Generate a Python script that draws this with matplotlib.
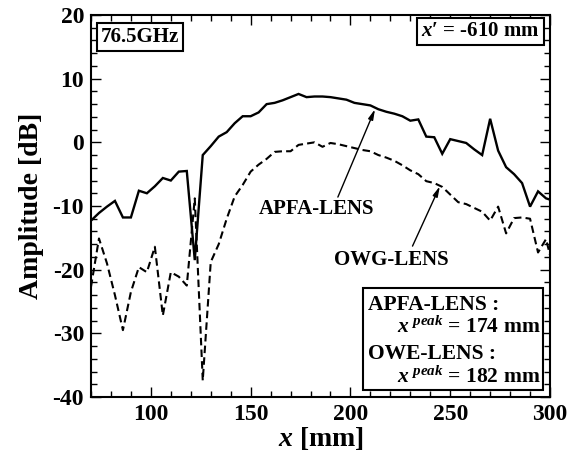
import matplotlib
matplotlib.use("Agg")
import matplotlib.pyplot as plt
from matplotlib.ticker import MultipleLocator
from matplotlib.patches import Rectangle

plt.rcParams['font.family'] = ['Liberation Serif', 'DejaVu Serif']
plt.rcParams['font.weight'] = 'bold'
plt.rcParams['mathtext.fontset'] = 'custom'
plt.rcParams['mathtext.it'] = 'Liberation Serif:italic:bold'
plt.rcParams['mathtext.rm'] = 'Liberation Serif:bold'
plt.rcParams['mathtext.bf'] = 'Liberation Serif:bold'

x_mm = [70, 74, 78, 82, 86, 90, 94, 98, 102, 106, 110, 114, 118, 122, 126, 130,
        134, 138, 142, 146, 150, 154, 158, 162, 166, 170, 174, 178, 182, 186, 190,
        194, 198, 202, 206, 210, 214, 218, 222, 226, 230, 234, 238, 242, 246, 250,
        254, 258, 262, 266, 270, 274, 278, 282, 286, 290, 294, 298, 300]

apfa_lens = [-12.3, -11.1, -10.1, -9.2, -11.8, -11.8, -7.6, -8.0, -6.9, -5.6, -6.0,
             -4.6, -4.5, -18.5, -2.0, -0.6, 0.9, 1.6, 3.0, 4.1, 4.1, 4.7, 6.0, 6.2,
             6.6, 7.1, 7.6, 7.1, 7.2, 7.2, 7.1, 6.9, 6.7, 6.2, 6.0, 5.8, 5.2, 4.8,
             4.5, 4.1, 3.4, 3.6, 0.9, 0.8, -1.8, 0.5, 0.2, -0.1, -1.1, -2.0, 3.7,
             -1.3, -3.9, -5.0, -6.4, -10.1, -7.7, -8.8, -9.0]

owg_lens = [-22.7, -15.1, -19.0, -24.0, -29.5, -23.5, -19.6, -20.4, -16.4, -27.2,
            -20.4, -21.1, -22.5, -8.8, -37.4, -18.8, -16.0, -12.0, -8.5, -6.7, -4.6,
            -3.5, -2.6, -1.5, -1.4, -1.4, -0.4, -0.2, 0.0, -0.7, -0.1, -0.3, -0.6,
            -0.9, -1.2, -1.4, -2.0, -2.4, -2.9, -3.6, -4.4, -5.0, -6.1, -6.4, -7.0,
            -8.2, -9.4, -9.7, -10.3, -10.9, -12.3, -10.1, -14.3, -11.9, -11.8, -12.0,
            -17.3, -15.2, -17.7]

x_ticks = [100, 150, 200, 250, 300]
y_ticks = [-40, -30, -20, -10, 0, 10, 20]

fig = plt.figure(figsize=(5.87, 4.55), dpi=100)
ax = fig.add_axes([0.155, 0.1275, 0.782, 0.8395])

ax.plot(x_mm, apfa_lens, color='black', lw=1.7, solid_joinstyle='miter')
ax.plot(x_mm, owg_lens, color='black', lw=1.5, linestyle=(0, (3.6, 2.0)))

ax.set_xlim(70, 300)
ax.set_ylim(-40, 20)
ax.set_xticks(x_ticks)
ax.set_yticks(y_ticks)
ax.set_xticklabels([str(v) for v in x_ticks])
ax.set_yticklabels([str(v) for v in y_ticks])
ax.xaxis.set_minor_locator(MultipleLocator(10))
ax.yaxis.set_minor_locator(MultipleLocator(2))
ax.tick_params(which='both', direction='in', top=True, right=True, width=1.0,
               labelsize=17, pad=5)
ax.tick_params(which='major', length=7)
ax.tick_params(which='minor', length=4)
for lab in ax.get_xticklabels() + ax.get_yticklabels():
    lab.set_fontweight('bold')
for sp in ax.spines.values():
    sp.set_linewidth(1.5)

ax.set_xlabel(r"$x$ [mm]", fontsize=20, fontweight='bold', labelpad=0)
ax.set_ylabel("Amplitude [dB]", fontsize=20, fontweight='bold', labelpad=6)

box = dict(boxstyle='square,pad=0.18', fc='white', ec='black', lw=1.5)
ax.text(0.022, 0.942, "76.5GHz", transform=ax.transAxes, fontsize=15,
        fontweight='bold', ha='left', va='center', bbox=box)
ax.text(0.978, 0.957, "$x$\u2032 = -610 mm", transform=ax.transAxes, fontsize=15,
        fontweight='bold', ha='right', va='center', bbox=box)

arrow = dict(arrowstyle='-|>,head_length=0.6,head_width=0.15', color='black',
             lw=1.0, shrinkA=0, shrinkB=0)
ax.text(183.2, -10.4, "APFA-LENS", fontsize=15, fontweight='bold',
        ha='center', va='center')
ax.annotate("", xy=(212.3, 5.2), xytext=(193.7, -8.6), arrowprops=arrow)
ax.text(220.3, -18.5, "OWG-LENS", fontsize=15, fontweight='bold',
        ha='center', va='center')
ax.annotate("", xy=(244.8, -6.9), xytext=(231.1, -16.3), arrowprops=arrow)

rect = Rectangle((0.593, 0.018), 0.392, 0.267, transform=ax.transAxes,
                 fc='white', ec='black', lw=1.5, zorder=5)
ax.add_patch(rect)
ax.text(0.604, 0.228, "APFA-LENS :", transform=ax.transAxes, fontsize=15.5,
        fontweight='bold', ha='left', va='baseline', zorder=6)
ax.text(0.980, 0.168, r"$x^{\ peak}$ = 174 mm", transform=ax.transAxes,
        fontsize=15.5, fontweight='bold', ha='right', va='baseline', zorder=6)
ax.text(0.604, 0.100, "OWE-LENS :", transform=ax.transAxes, fontsize=15.5,
        fontweight='bold', ha='left', va='baseline', zorder=6)
ax.text(0.980, 0.037, r"$x^{\ peak}$ = 182 mm", transform=ax.transAxes,
        fontsize=15.5, fontweight='bold', ha='right', va='baseline', zorder=6)

fig.savefig("out.png", dpi=100)
